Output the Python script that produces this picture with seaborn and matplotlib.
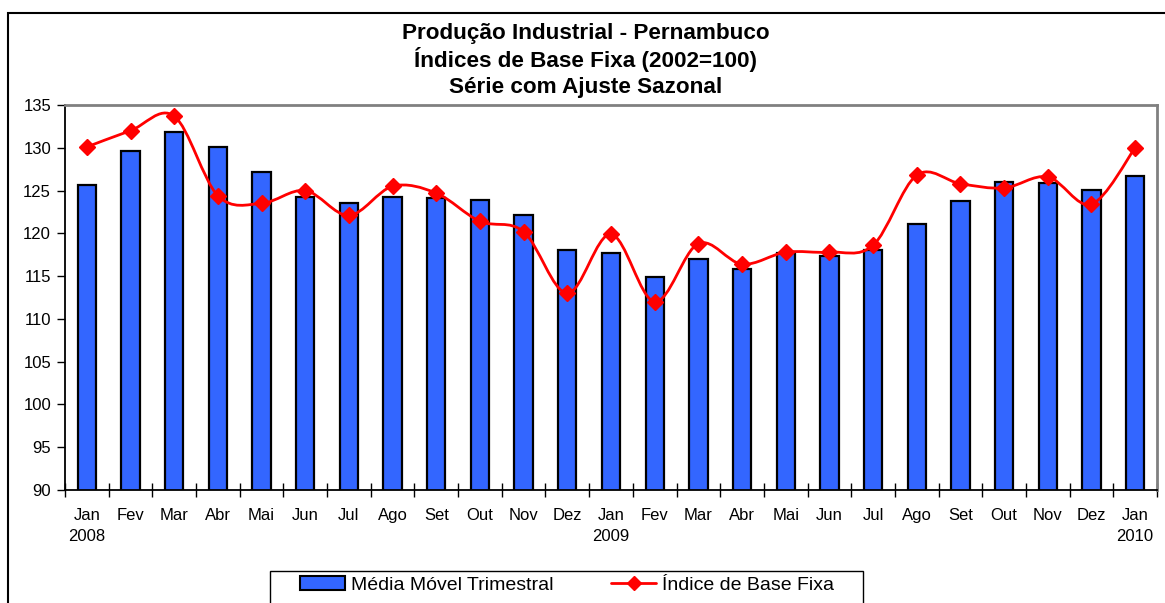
import numpy as np
import matplotlib
matplotlib.use("Agg")
import matplotlib.pyplot as plt
from matplotlib.path import Path
from matplotlib.patches import PathPatch, Rectangle
from matplotlib.lines import Line2D
import seaborn as sns

# %% Data
months = ["Jan", "Fev", "Mar", "Abr", "Mai", "Jun", "Jul", "Ago", "Set", "Out", "Nov", "Dez",
          "Jan", "Fev", "Mar", "Abr", "Mai", "Jun", "Jul", "Ago", "Set", "Out", "Nov", "Dez", "Jan"]
years = {0: "2008", 12: "2009", 24: "2010"}

media_movel = [125.6, 129.6, 131.9, 130.1, 127.2, 124.3, 123.5, 124.2, 124.1, 123.9, 122.1, 118.1,
               117.7, 114.9, 117.0, 115.8, 117.7, 117.4, 118.1, 121.1, 123.8, 126.0, 125.9, 125.1, 126.7]
indice_base = [130.1, 132.0, 133.7, 124.4, 123.5, 125.0, 122.1, 125.5, 124.7, 121.4, 120.2, 113.0,
               119.9, 112.0, 118.8, 116.4, 117.8, 117.8, 118.6, 126.8, 125.8, 125.3, 126.6, 123.4, 130.0]

title_lines = ["Produção Industrial - Pernambuco", "Índices de Base Fixa (2002=100)",
               "Série com Ajuste Sazonal"]
bar_label = "Média Móvel Trimestral"
line_label = "Índice de Base Fixa"

# %% Style
sns.set_style("white")
plt.rcParams["font.family"] = ["Liberation Sans", "DejaVu Sans"]
plt.rcParams["text.color"] = "black"
plt.rcParams["xtick.color"] = "black"
plt.rcParams["ytick.color"] = "black"
bar_color = "#3366FF"
line_color = "#FF0000"

fig = plt.figure(figsize=(11.65, 6.03), dpi=100)
ax = fig.add_axes([65 / 1165, 1 - 490 / 603, 1092 / 1165, 385 / 603])

x = np.arange(len(months))
sns.barplot(x=x, y=media_movel, color=bar_color, width=0.42, edgecolor="black",
            linewidth=1.6, saturation=1, ax=ax)

# smoothed line (Excel-like Catmull-Rom bezier through the points)
pts = np.column_stack([x, indice_base]).astype(float)
verts = [tuple(pts[0])]
codes = [Path.MOVETO]
for i in range(len(pts) - 1):
    p0 = pts[max(i - 1, 0)]
    p1 = pts[i]
    p2 = pts[i + 1]
    p3 = pts[min(i + 2, len(pts) - 1)]
    c1 = p1 + (p2 - p0) / 6
    c2 = p2 - (p3 - p1) / 6
    verts += [tuple(c1), tuple(c2), tuple(p2)]
    codes += [Path.CURVE4] * 3
ax.add_patch(PathPatch(Path(verts, codes), facecolor="none", edgecolor=line_color, lw=2, zorder=4))
ax.plot(x, indice_base, linestyle="none", marker="D", markersize=8, color=line_color, zorder=5)

# %% Axes
ax.set_xlim(-0.5, len(months) - 0.5)
ax.set_ylim(90, 135)
ax.set_yticks(np.arange(90, 136, 5))
ax.tick_params(axis="y", labelsize=12, direction="out", length=6, width=1, pad=4, left=True)
ax.set_xticks(np.arange(-0.5, len(months), 1))
ax.set_xticklabels([])
ax.tick_params(axis="x", which="major", direction="inout", length=10, width=1, bottom=True)
ax.set_xticks(x, minor=True)
ax.set_xticklabels([m + ("\n" + years[i] if i in years else "") for i, m in enumerate(months)],
                   minor=True, fontsize=12, va="top", linespacing=1.5)
ax.tick_params(axis="x", which="minor", length=0, pad=13)
ax.set_xlabel("")
ax.set_ylabel("")
for side in ["left", "bottom"]:
    ax.spines[side].set_color("black")
    ax.spines[side].set_linewidth(1.3)
for side in ["top", "right"]:
    ax.spines[side].set_color("#808080")
    ax.spines[side].set_linewidth(2)
ax.grid(False)

for line, ypix in zip(title_lines, [33, 60, 87]):
    fig.text(586 / 1165, 1 - ypix / 603, line, ha="center", va="center", fontsize=16.2,
             fontweight="bold")

# outer chart border
fig.patches.append(Rectangle((8 / 1165, -0.1), 1.2, 1.1 - 13 / 603, transform=fig.transFigure,
                             fill=False, edgecolor="black", lw=1.5))
# legend box
fig.patches.append(Rectangle((270 / 1165, -0.05), 593 / 1165, 0.05 + 1 - 571 / 603,
                             transform=fig.transFigure, fill=False, edgecolor="black", lw=1))

handles = [Rectangle((0, 0), 1, 1, facecolor=bar_color, edgecolor="black", lw=1.5),
           Line2D([], [], color=line_color, marker="D", markersize=7, lw=2)]
leg = fig.legend(handles, [bar_label, line_label], ncol=2, loc="center left",
                 bbox_to_anchor=(300 / 1165, 1 - 585 / 603),
                 fontsize=14, frameon=False, handlelength=2.3, handletextpad=0.3,
                 columnspacing=3.0, borderpad=0, borderaxespad=0)

fig.savefig("out.png", dpi=100, facecolor="white")
